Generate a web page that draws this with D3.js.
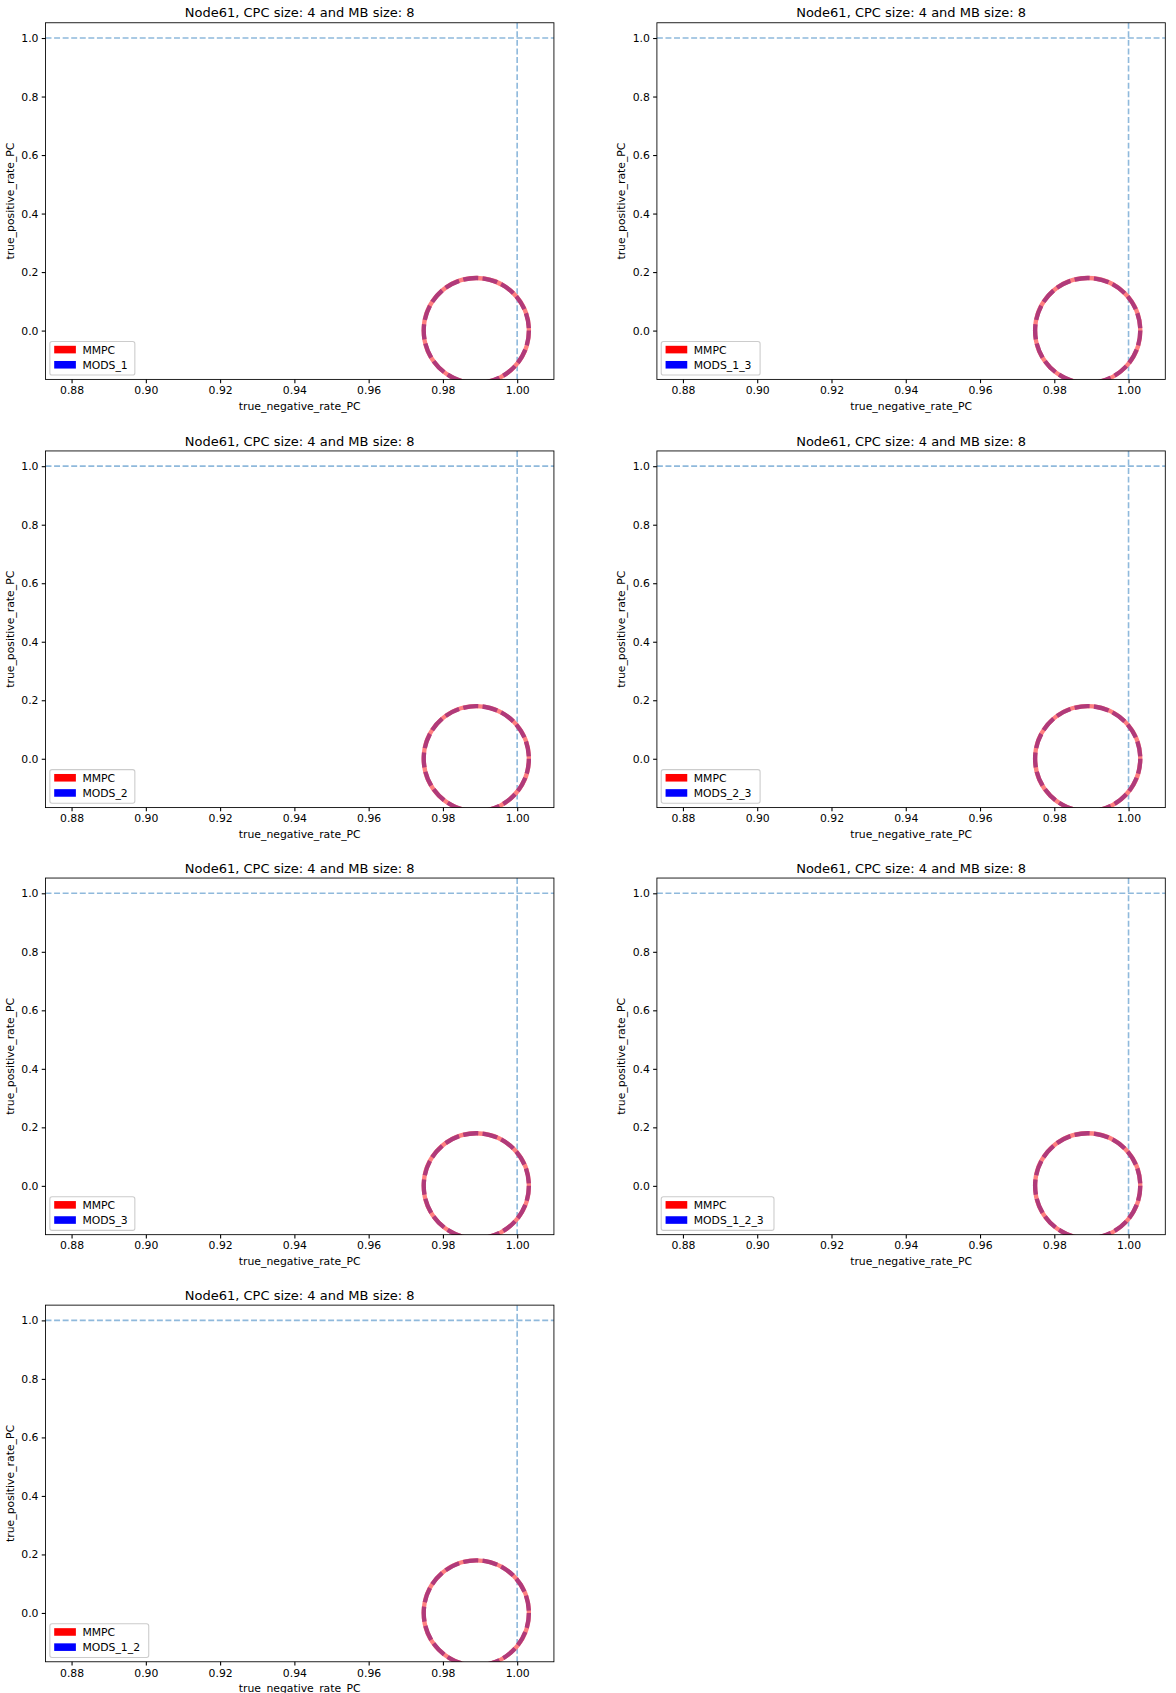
<!DOCTYPE html><html><head><script src="https://cdn.jsdelivr.net/npm/d3@7"></script>
<style>body{margin:0;background:#fff}text{font-family:"DejaVu Sans",sans-serif}</style></head><body>
<svg id="c" width="1176" height="1693"></svg>
<script>
const titles=["Node61, CPC size: 4 and MB size: 8","Node61, CPC size: 4 and MB size: 8","Node61, CPC size: 4 and MB size: 8","Node61, CPC size: 4 and MB size: 8","Node61, CPC size: 4 and MB size: 8","Node61, CPC size: 4 and MB size: 8","Node61, CPC size: 4 and MB size: 8"];
const seriesB=["MODS_1","MODS_1_3","MODS_2","MODS_2_3","MODS_3","MODS_1_2_3","MODS_1_2"];
const pointX=[0.989],pointY=[0.0];
const xTicks=[0.88,0.90,0.92,0.94,0.96,0.98,1.00];
const yTicks=[0.0,0.2,0.4,0.6,0.8,1.0];
const svg=d3.select("#c").append("g").attr("transform","scale(1.084)");
const W=469,H=329,lefts=[42,606],tops=[21,416,810,1204];
seriesB.forEach((nm,i)=>{
 const L=lefts[i%2],T=tops[Math.floor(i/2)];
 const g=svg.append("g").attr("transform",`translate(${L},${T})`);
 const x=d3.scaleLinear().domain([0.873,1.0099]).range([0,W]);
 const y=d3.scaleLinear().domain([-0.167,1.052]).range([H,0]);
 g.append("clipPath").attr("id","cl"+i).append("rect").attr("width",W).attr("height",H);
 const p=g.append("g").attr("clip-path",`url(#cl${i})`);
 p.append("line").attr("x1",0).attr("x2",W).attr("y1",y(1)).attr("y2",y(1)).attr("stroke","#8fb9dc").attr("stroke-width",1.5).attr("stroke-dasharray","5.5,2.4");
 p.append("line").attr("x1",x(1)).attr("x2",x(1)).attr("y1",0).attr("y2",H).attr("stroke","#8fb9dc").attr("stroke-width",1.5).attr("stroke-dasharray","5.5,2.4");
 pointX.forEach((v,k)=>{
  p.append("circle").attr("cx",x(v)).attr("cy",y(pointY[k])).attr("r",48.5).attr("fill","none").attr("stroke","#ff8080").attr("stroke-width",4);
  p.append("circle").attr("cx",x(v)).attr("cy",y(pointY[k])).attr("r",48.5).attr("fill","none").attr("stroke","#b03a7a").attr("stroke-width",4).attr("stroke-dasharray","14,4");
 });
 const xa=g.append("g").attr("transform",`translate(0,${H})`).call(d3.axisBottom(x).tickValues(xTicks).tickFormat(d3.format(".2f")).tickSizeOuter(0).tickSize(3.5).tickPadding(3));
 const ya=g.append("g").call(d3.axisLeft(y).tickValues(yTicks).tickFormat(d3.format(".1f")).tickSizeOuter(0).tickSize(3.5).tickPadding(3));
 [xa,ya].forEach(a=>{a.select(".domain").remove();a.selectAll("text").attr("font-size",10).attr("fill","#000");a.selectAll("line").attr("stroke","#000")});
 g.append("rect").attr("width",W).attr("height",H).attr("fill","none").attr("stroke","#000").attr("stroke-width",0.8);
 g.append("text").attr("x",W/2).attr("y",-5).attr("text-anchor","middle").attr("font-size",12).text(titles[i]);
 g.append("text").attr("x",W/2).attr("y",H+28).attr("text-anchor","middle").attr("font-size",10).text("true_negative_rate_PC");
 g.append("text").attr("transform",`translate(-29,${H/2}) rotate(-90)`).attr("text-anchor","middle").attr("font-size",10).text("true_positive_rate_PC");
 const lw=Math.max(66,40+nm.length*6.4);
 const lg=g.append("g").attr("transform",`translate(4,${H-35})`);
 lg.append("rect").attr("width",lw).attr("height",31).attr("rx",2).attr("fill","#fff").attr("fill-opacity",0.8).attr("stroke","#ccc");
 [["MMPC","red"],[nm,"blue"]].forEach(([t,c],k)=>{
  lg.append("rect").attr("x",4).attr("y",4+k*14).attr("width",20).attr("height",7).attr("fill",c);
  lg.append("text").attr("x",30).attr("y",11.5+k*14).attr("font-size",10).text(t);
 });
});
</script></body></html>
